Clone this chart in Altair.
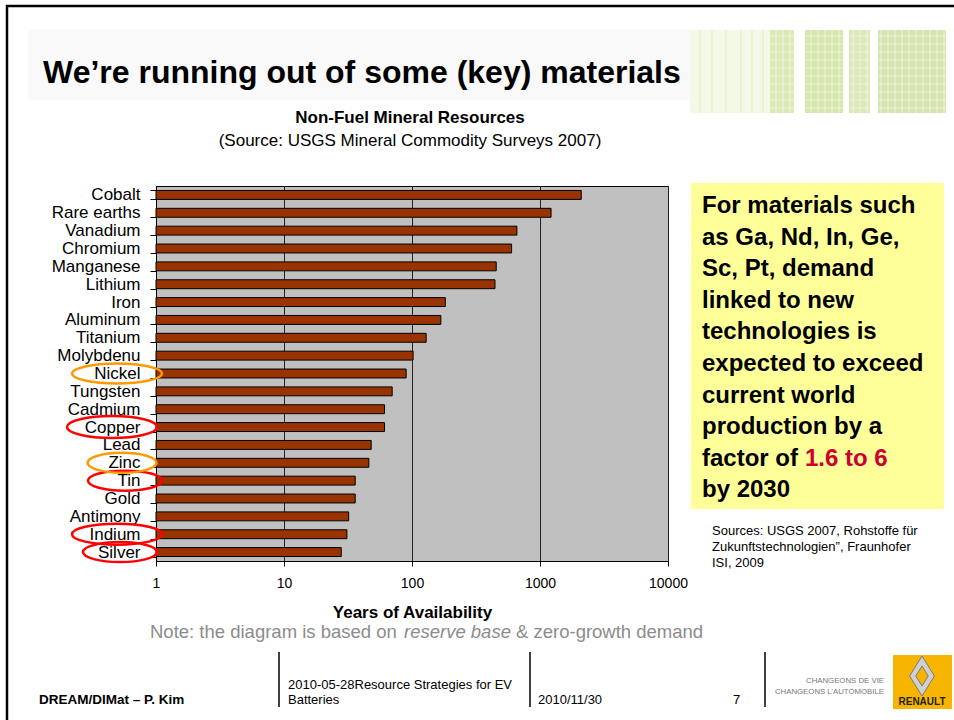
import altair as alt
import pandas as pd

# ---------------- data ----------------
materials = ["Cobalt", "Rare earths", "Vanadium", "Chromium", "Manganese", "Lithium",
             "Iron", "Aluminum", "Titanium", "Molybdenu", "Nickel", "Tungsten",
             "Cadmium", "Copper", "Lead", "Zinc", "Tin", "Gold", "Antimony",
             "Indium", "Silver"]
years = [2100, 1220, 660, 600, 455, 445, 182, 168, 129, 102, 90, 70,
         61, 61, 48, 46, 36, 36, 32, 31, 28]
x_ticks = [1, 10, 100, 1000, 10000]

circled_red = ["Copper", "Tin", "Indium", "Silver"]
circled_orange = ["Nickel", "Zinc"]

title_text = "We\u2019re running out of some (key) materials"
subtitle_text = "Non-Fuel Mineral Resources"
source_text = "(Source: USGS Mineral Commodity Surveys 2007)"
x_title = "Years of Availability"
note_parts = ["Note: the diagram is based on ", "reserve base", "& zero-growth demand"]
box_lines = ["For materials such", "as Ga, Nd, In, Ge,", "Sc, Pt, demand",
             "linked to new", "technologies is", "expected to exceed",
             "current world", "production by a", "factor of ", "by 2030"]
box_highlight = "1.6 to 6"
sources_lines = ["Sources: USGS 2007, Rohstoffe f\u00fcr",
                 "Zukunftstechnologien\u201d, Fraunhofer", "ISI, 2009"]
footer_author = "DREAM/DIMat \u2013 P. Kim"
footer_topic = ["2010-05-28Resource Strategies for EV", "Batteries"]
footer_date = "2010/11/30"
footer_page = "7"
brand_lines = ["CHANGEONS DE VIE", "CHANGEONS L\u2019AUTOMOBILE"]
brand_name = "RENAULT"

df = pd.DataFrame({"material": materials, "years": years})

# ---------------- layout ----------------
OX, OY = 156, 186          # plot origin in page pixels
W, H = 512, 375            # plot area
FONT = "Liberation Sans, Arial, Helvetica, sans-serif"

one = alt.Data(values=[{}])


def txt(text, x, y, size=12, weight="normal", color="black", align="left",
        style="normal", baseline="middle"):
    return alt.Chart(alt.Data(values=[{"t": text}])).mark_text(
        align=align, baseline=baseline, fontSize=size, fontWeight=weight,
        fontStyle=style, color=color, font=FONT
    ).encode(x=alt.value(x - OX), y=alt.value(y - OY), text="t:N")


def rect(x1, x2, y1, y2, fill, opacity=1.0):
    return alt.Chart(one).mark_rect(fill=fill, opacity=opacity).encode(
        x=alt.value(x1 - OX), x2=alt.value(x2 - OX),
        y=alt.value(y1 - OY), y2=alt.value(y2 - OY))


def vline(x, y1, y2, width=1.5, color="black", opacity=1.0):
    return alt.Chart(one).mark_rule(color=color, strokeWidth=width,
                                    opacity=opacity).encode(
        x=alt.value(x - OX), y=alt.value(y1 - OY), y2=alt.value(y2 - OY))


def hline(y, x1, x2, width=1.5, color="black", opacity=1.0):
    return alt.Chart(one).mark_rule(color=color, strokeWidth=width,
                                    opacity=opacity).encode(
        y=alt.value(y - OY), x=alt.value(x1 - OX), x2=alt.value(x2 - OX))


yscale = alt.Scale(domain=materials, paddingInner=0.5, paddingOuter=0.25)
yaxis = alt.Axis(tickBand="extent", tickSize=6, tickColor="black",
                 domainColor="black", labelFontSize=17, labelColor="black",
                 labelPadding=10, labelFont=FONT, grid=False)
Y = alt.Y("material:N", scale=yscale, axis=yaxis, title=None)

xaxis = alt.Axis(values=x_ticks, format="d", grid=True, gridColor="#222222",
                 gridWidth=1, tickColor="black", tickSize=5, domainColor="black",
                 labelFontSize=14, labelColor="black", labelPadding=10,
                 labelFont=FONT, labelFlush=False, titleFont=FONT,
                 titleFontSize=17, titleFontWeight="bold", titleColor="black",
                 titlePadding=14)

bars = alt.Chart(df).mark_bar(color="#993300", stroke="black", strokeWidth=1).encode(
    y=Y,
    x=alt.X("years:Q", scale=alt.Scale(type="log", domain=[1, 10000]),
            axis=xaxis, title=x_title),
    x2=alt.datum(1),
)


def ellipse(mat, cx, w, h, color):
    r = h / w
    path = f"M-1,0A1,{r:.3f},0,1,0,1,0A1,{r:.3f},0,1,0,-1,0Z"
    return alt.Chart(df).transform_filter(alt.datum.material == mat).mark_point(
        shape=path, size=w * w, filled=False, stroke=color, strokeWidth=2.5,
        opacity=1).encode(y=Y, x=alt.value(cx - OX))


RED, ORANGE = "#FF0000", "#FF9900"
ell_geom = {"Nickel": (117, 90, 20), "Copper": (112, 90, 22), "Zinc": (122, 69, 20),
            "Tin": (125, 74, 20), "Indium": (117, 90, 21), "Silver": (120, 74, 20)}
ellipses = [ellipse(m, *ell_geom[m], RED) for m in circled_red] + \
           [ellipse(m, *ell_geom[m], ORANGE) for m in circled_orange]

# ---------------- decorations ----------------
deco = [
    rect(28, 690, 29, 100, "#f9f9f9"),
    rect(690, 770, 30, 113, "#f4f8e6"),
    rect(770, 794, 30, 113, "#dbe9b4"),
    rect(805, 843, 30, 113, "#d6e6ad"),
    rect(849, 870, 30, 113, "#dbe8b8"),
    rect(878, 946, 30, 113, "#d4e5ae"),
]
# faint texture lines over the green panel
for gx in range(776, 946, 7):
    deco.append(vline(gx, 30, 113, width=1, color="white", opacity=0.6))
for gy in range(36, 113, 8):
    deco.append(hline(gy, 770, 946, width=1, color="white", opacity=0.5))
for gx in (700, 712, 726, 741, 752, 763):
    deco.append(vline(gx, 30, 113, width=1, color="#dfeab8", opacity=0.9))
deco += [
    vline(7, 5, 720, width=2.5),
    hline(6, 6, 954, width=2.5),
    rect(691, 944, 183, 509, "#FFFF99"),
    vline(279, 652, 707),
    vline(530, 652, 707),
    vline(765, 652, 707),
    rect(893, 952, 655, 709, "#F7B500"),
]

logo_outer = alt.Chart(one).mark_point(
    shape="M0,-1L0.62,0L0,1L-0.62,0Z", size=1600, filled=True, fill="#d0d0d0",
    stroke="#7a7a7a", strokeWidth=1, opacity=1).encode(
    x=alt.value(922 - OX), y=alt.value(676 - OY))
logo_inner = alt.Chart(one).mark_point(
    shape="M0,-1L0.62,0L0,1L-0.62,0Z", size=400, filled=True, fill="#F7B500",
    stroke="#7a7a7a", strokeWidth=1, opacity=1).encode(
    x=alt.value(922 - OX), y=alt.value(676 - OY))

# ---------------- texts ----------------
texts = [
    txt(title_text, 43, 83, size=32, weight="bold", baseline="alphabetic"),
    txt(subtitle_text, 410, 118, size=17, weight="bold", align="center"),
    txt(source_text, 410, 141, size=17, align="center"),
    txt(note_parts[0], 150, 632, size=18.5, color="#8c8c8c"),
    txt(note_parts[1], 404, 632, size=18.5, color="#8c8c8c", style="italic"),
    txt(note_parts[2], 516, 632, size=18.5, color="#8c8c8c"),
]
for i, line in enumerate(box_lines):
    texts.append(txt(line, 702, 206 + 31.6 * i, size=24, weight="bold"))
texts.append(txt(box_highlight, 805, 206 + 31.6 * 8, size=24, weight="bold",
                 color="#CC0033"))
for i, line in enumerate(sources_lines):
    texts.append(txt(line, 712, 531 + 16 * i, size=13))
texts += [
    txt(footer_author, 39, 700, size=13.5, weight="bold"),
    txt(footer_topic[0], 288, 685, size=13),
    txt(footer_topic[1], 288, 700, size=13),
    txt(footer_date, 538, 700, size=13),
    txt(footer_page, 733, 700, size=13),
    txt(brand_lines[0], 884, 681, size=7.8, color="#777777", align="right"),
    txt(brand_lines[1], 884, 692, size=7.8, color="#777777", align="right"),
    txt(brand_name, 922, 702, size=10, weight="bold", color="#222222", align="center"),
]

chart = alt.layer(*deco, bars, *ellipses, logo_outer, logo_inner, *texts).properties(
    width=W, height=H,
    autosize=alt.AutoSizeParams(type="none"),
    padding={"left": OX, "top": OY, "right": 954 - OX - W, "bottom": 720 - OY - H},
    background="white",
).configure_view(fill="#C0C0C0", stroke="black", strokeWidth=1)

chart.save("out.html", embed_options={"renderer": "svg", "actions": False})
